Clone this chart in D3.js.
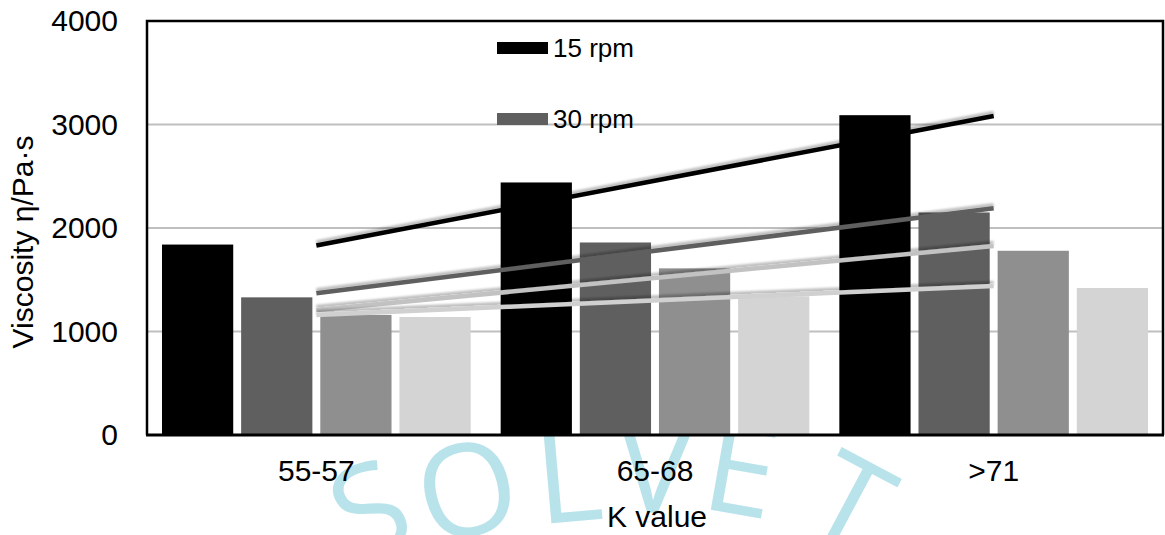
<!DOCTYPE html>
<html>
<head>
<meta charset="utf-8">
<script src="https://cdn.jsdelivr.net/npm/d3@7"></script>
<style>
  html, body { margin: 0; padding: 0; background: #fff; }
  svg { display: block; font-family: "Liberation Sans", Arial, sans-serif; }
</style>
</head>
<body>
<svg id="chart" width="1165" height="535"></svg>
<script>
// ---- data ----
const categories = ["55-57", "65-68", ">71"];
const rpm15 = [1840, 2440, 3090];
const rpm30 = [1330, 1860, 2150];
const seriesC = [1160, 1610, 1780];
const seriesD = [1140, 1340, 1420];
const legendLabels = ["15 rpm", "30 rpm"];
const yTicks = [0, 1000, 2000, 3000, 4000];
const yTitle = "Viscosity η/Pa·s";
const xTitle = "K value";
const watermarkText = ["S", "O", "L", "V", "E", ".", "T"];

// ---- styling ----
const barColors = ["#000000", "#5f5f5f", "#8f8f8f", "#d4d4d4"];
const trendColors = ["#000000", "#5f5f5f", "#c2c2c2", "#d0d0d0"];
const series = [rpm15, rpm30, seriesC, seriesD];

const plot = { left: 147, right: 1163, top: 21, bottom: 435 };
const font = "'Liberation Sans', Arial, sans-serif";

const svg = d3.select("#chart");

// soft shadow under the trend lines
const defs = svg.append("defs");
const f = defs.append("filter").attr("id", "trendShadow")
  .attr("x", "-5%").attr("y", "-100%").attr("width", "110%").attr("height", "300%");
f.append("feGaussianBlur").attr("in", "SourceAlpha").attr("stdDeviation", 1.3).attr("result", "b");
f.append("feOffset").attr("in", "b").attr("dy", -3).attr("result", "o");
f.append("feComponentTransfer").attr("in", "o").attr("result", "s")
  .append("feFuncA").attr("type", "linear").attr("slope", 0.25);
const fm = f.append("feMerge");
fm.append("feMergeNode").attr("in", "s");
fm.append("feMergeNode").attr("in", "SourceGraphic");

// faint lettering arcing under the axis
const wmLayout = [
  [368, 506, -24], [466, 486, -14], [568, 472, -5], [655, 463, 3],
  [742, 465, 10], [772, 506, 0], [852, 500, 28]
];
const wm = svg.append("g").attr("font-family", "'Open Sans', sans-serif")
  .attr("font-size", 128).attr("fill", "#b9e3eb");
watermarkText.forEach((ch, i) => {
  const [cx, cy, a] = wmLayout[i];
  wm.append("text").attr("transform", `translate(${cx},${cy}) rotate(${a})`)
    .attr("text-anchor", "middle").attr("dominant-baseline", "central").text(ch);
});

// plot background covers the lettering above the axis
svg.append("rect").attr("x", plot.left).attr("y", plot.top)
  .attr("width", plot.right - plot.left).attr("height", plot.bottom - plot.top)
  .attr("fill", "#fff");

// ---- scales ----
const x0 = d3.scaleBand().domain(categories).range([plot.left, plot.right]);
const x1 = d3.scaleBand().domain(d3.range(series.length))
  .range([15, x0.bandwidth() - 15]).paddingInner(0.1);
const y = d3.scaleLinear().domain([0, 4000]).range([plot.bottom, plot.top]);

// gridlines
svg.append("g").selectAll("line").data(yTicks.filter(t => t > 0 && t < 4000)).join("line")
  .attr("x1", plot.left).attr("x2", plot.right)
  .attr("y1", d => y(d)).attr("y2", d => y(d))
  .attr("stroke", "#bfbfbf").attr("stroke-width", 2);

// bars
series.forEach((vals, si) => {
  svg.append("g").selectAll("rect").data(vals).join("rect")
    .attr("x", (d, i) => x0(categories[i]) + x1(si))
    .attr("width", x1.bandwidth())
    .attr("y", d => y(d))
    .attr("height", d => plot.bottom - y(d))
    .attr("fill", barColors[si]);
});

// linear trend lines
series.forEach((vals, si) => {
  const xs = vals.map((d, i) => i + 1);
  const mx = d3.mean(xs), my = d3.mean(vals);
  const slope = d3.sum(xs.map((xv, i) => (xv - mx) * (vals[i] - my))) /
                d3.sum(xs.map(xv => (xv - mx) ** 2));
  const icpt = my - slope * mx;
  const first = 1, last = vals.length;
  const cx = k => x0(categories[k - 1]) + x0.bandwidth() / 2;
  svg.append("line")
    .attr("x1", cx(first)).attr("y1", y(icpt + slope * first))
    .attr("x2", cx(last)).attr("y2", y(icpt + slope * last))
    .attr("stroke", trendColors[si]).attr("stroke-width", 4.5)
    .attr("filter", "url(#trendShadow)");
});

// plot frame
svg.append("path")
  .attr("d", `M${plot.left},${plot.bottom}V${plot.top}H${plot.right}V${plot.bottom}`)
  .attr("fill", "none").attr("stroke", "#000").attr("stroke-width", 2.5);
svg.append("line").attr("x1", plot.left - 1).attr("x2", plot.right + 1)
  .attr("y1", plot.bottom).attr("y2", plot.bottom)
  .attr("stroke", "#000").attr("stroke-width", 3);

// y axis labels
const yAxis = svg.append("g").attr("transform", `translate(${plot.left},0)`)
  .call(d3.axisLeft(y).tickValues(yTicks).tickFormat(d3.format("d")).tickSize(0).tickPadding(29));
yAxis.select(".domain").remove();
yAxis.selectAll("text").attr("font-size", 30).attr("font-family", font).attr("fill", "#000");

// x axis labels
const xAxis = svg.append("g").attr("transform", `translate(0,${plot.bottom})`)
  .call(d3.axisBottom(x0).tickSize(0).tickPadding(25));
xAxis.select(".domain").remove();
xAxis.selectAll("text").attr("font-size", 30).attr("font-family", font).attr("fill", "#000");

// axis titles
svg.append("text").attr("transform", `translate(33,${(plot.top + plot.bottom) / 2 + 14}) rotate(-90)`)
  .attr("text-anchor", "middle").attr("font-size", 30).text(yTitle);
svg.append("text").attr("x", (plot.left + plot.right) / 2 + 2).attr("y", 527)
  .attr("text-anchor", "middle").attr("font-size", 30).text(xTitle);

// legend
const lg = svg.append("g");
legendLabels.forEach((lab, i) => {
  const cy = 48 + i * 71;
  lg.append("rect").attr("x", 497).attr("y", cy - 6).attr("width", 51).attr("height", 12)
    .attr("fill", barColors[i]);
  lg.append("text").attr("x", 553).attr("y", cy + 9).attr("font-size", 26).text(lab);
});
</script>
</body>
</html>
